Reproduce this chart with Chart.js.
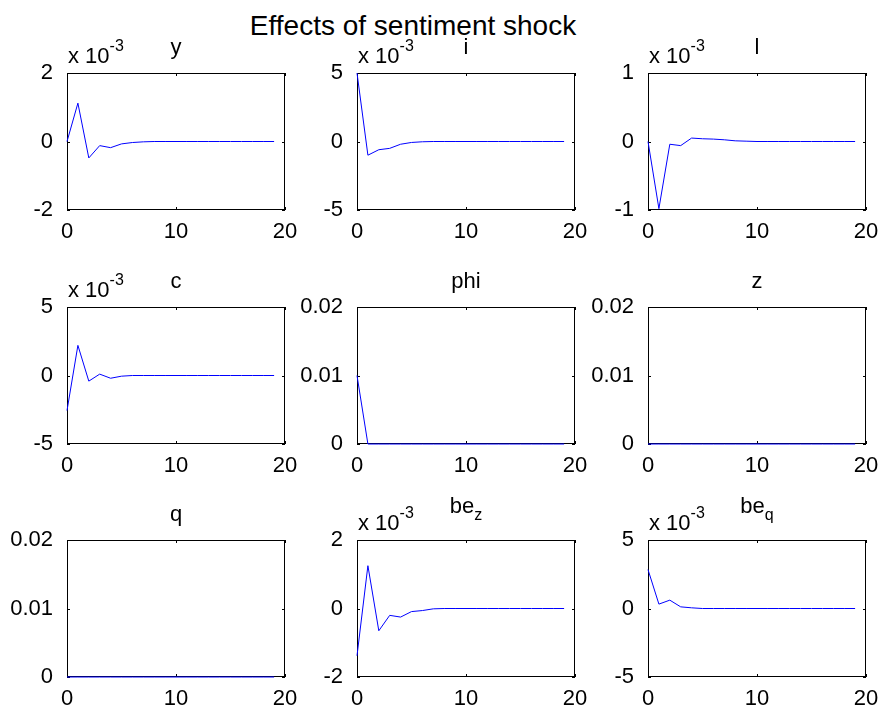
<!DOCTYPE html>
<html>
<head>
<meta charset="utf-8">
<script src="https://cdn.jsdelivr.net/npm/chart.js@4.4.1/dist/chart.umd.min.js"></script>
<style>
  html, body { margin: 0; padding: 0; background: #fff; }
  #wrap { position: relative; width: 884px; height: 712px; overflow: hidden; background: #fff; }
  #wrap canvas { position: absolute; }
  #mainTitle { position: absolute; left: 0; width: 826px; top: 9px; text-align: center;
    font-family: "Liberation Sans", Arial, sans-serif; font-size: 28px; color: #000; line-height: 34px; }
</style>
</head>
<body>
<div id="wrap">
  <div id="mainTitle">Effects of sentiment shock</div>
</div>
<script>
// ---- data ----
const periods = [0, 1, 2, 3, 4, 5, 6, 7, 8, 9, 10, 11, 12, 13, 14, 15, 16, 17, 18, 19];
const panelNames = ["y", "i", "l", "c", "phi", "z", "q", "be_z", "be_q"];
const yValues   = [0, 0.00112, -0.00048, -0.00012, -0.00018, -0.00007, -0.00003, -0.00001, 0, 0, 0, 0, 0, 0, 0, 0, 0, 0, 0, 0];
const iValues   = [0.005, -0.0010, -0.0006, -0.0005, -0.0002, -0.00007, -0.00002, 0, 0, 0, 0, 0, 0, 0, 0, 0, 0, 0, 0, 0];
const lValues   = [0, -0.00098, -0.00004, -0.00006, 0.00005, 0.00004, 0.000035, 0.000025, 0.00001, 0.000005, 0, 0, 0, 0, 0, 0, 0, 0, 0, 0];
const cValues   = [-0.00256, 0.0022, -0.00041, 0.0001, -0.0002, -0.00005, 0, 0, 0, 0, 0, 0, 0, 0, 0, 0, 0, 0, 0, 0];
const phiValues = [0.01, 0, 0, 0, 0, 0, 0, 0, 0, 0, 0, 0, 0, 0, 0, 0, 0, 0, 0, 0];
const zValues   = [0, 0, 0, 0, 0, 0, 0, 0, 0, 0, 0, 0, 0, 0, 0, 0, 0, 0, 0, 0];
const qValues   = [0, 0, 0, 0, 0, 0, 0, 0, 0, 0, 0, 0, 0, 0, 0, 0, 0, 0, 0, 0];
const bezValues = [-0.00138, 0.00125, -0.00065, -0.0002, -0.00025, -0.00009, -0.00006, -0.00001, 0, 0, 0, 0, 0, 0, 0, 0, 0, 0, 0, 0];
const beqValues = [0.00284, 0.00032, 0.00061, 0.00012, 0.00005, 0, 0, 0, 0, 0, 0, 0, 0, 0, 0, 0, 0, 0, 0, 0];
// y-axis tick values per panel
const yTicks = {
  y:   [-0.002, 0, 0.002],
  i:   [-0.005, 0, 0.005],
  l:   [-0.001, 0, 0.001],
  c:   [-0.005, 0, 0.005],
  phi: [0, 0.01, 0.02],
  z:   [0, 0.01, 0.02],
  q:   [0, 0.01, 0.02],
  be_z:[-0.002, 0, 0.002],
  be_q:[-0.005, 0, 0.005]
};
const xTicks = [0, 10, 20];
const seriesByName = { y: yValues, i: iValues, l: lValues, c: cValues, phi: phiValues, z: zValues, q: qValues, be_z: bezValues, be_q: beqValues };
const scaledPanels = ["y", "i", "l", "c", "be_z", "be_q"]; // shown with "x 10^-3"

// ---- layout ----
const FONT = '"Liberation Sans", Arial, sans-serif';
const colLeft = [67, 357, 648];
const rowTop = [73, 307, 540];
const plotW = 218, plotH = 137;
const ML = 66, MT = 50, MR = 22, MB = 36;

const decoPlugin = {
  id: 'deco',
  beforeDatasetsDraw(chart) {
    const { ctx, chartArea: a } = chart;
    ctx.save();
    ctx.strokeStyle = '#000';
    ctx.lineWidth = 1;
    ctx.strokeRect(Math.round(a.left) + 0.5, Math.round(a.top) + 0.5,
                   Math.round(a.right - a.left) - 1, Math.round(a.bottom - a.top) - 1);
    const xs = chart.scales.x, ys = chart.scales.y;
    const tl = 3;
    ctx.beginPath();
    xTicks.forEach(v => {
      const px = Math.round(xs.getPixelForValue(v)) + 0.5;
      ctx.moveTo(px, a.bottom); ctx.lineTo(px, a.bottom - tl);
      ctx.moveTo(px, a.top); ctx.lineTo(px, a.top + tl);
    });
    chart.options.plugins.deco.ticks.forEach(v => {
      const py = Math.round(ys.getPixelForValue(v)) + 0.5;
      ctx.moveTo(a.left, py); ctx.lineTo(a.left + tl, py);
      ctx.moveTo(a.right, py); ctx.lineTo(a.right - tl, py);
    });
    ctx.stroke();
    ctx.restore();
  },
  afterDraw(chart) {
    const { ctx, chartArea: a } = chart;
    const o = chart.options.plugins.deco;
    ctx.save();
    ctx.fillStyle = '#000';
    ctx.textBaseline = 'alphabetic';
    const cx = (a.left + a.right) / 2;
    const parts = o.title.split('_');
    ctx.font = '22px ' + FONT;
    if (parts.length === 2) {
      const w1 = ctx.measureText(parts[0]).width;
      ctx.font = '16px ' + FONT;
      const w2 = ctx.measureText(parts[1]).width;
      const x0 = cx - (w1 + w2) / 2;
      ctx.font = '22px ' + FONT;
      ctx.textAlign = 'left';
      ctx.fillText(parts[0], x0, a.top - 27);
      ctx.font = '16px ' + FONT;
      ctx.fillText(parts[1], x0 + w1, a.top - 20);
    } else {
      ctx.textAlign = 'center';
      ctx.fillText(o.title, cx, a.top - 19);
    }
    if (o.scaled) {
      ctx.textAlign = 'left';
      ctx.font = '22px ' + FONT;
      const base = 'x 10';
      ctx.fillText(base, a.left + 1, a.top - 10);
      const w = ctx.measureText(base).width;
      ctx.font = '16px ' + FONT;
      ctx.fillText('-3', a.left + 1 + w, a.top - 22);
    }
    ctx.restore();
  }
};

const wrap = document.getElementById('wrap');
panelNames.forEach((name, idx) => {
  const r = Math.floor(idx / 3), c = idx % 3;
  const cv = document.createElement('canvas');
  const W = ML + plotW + MR, H = MT + plotH + MB;
  cv.width = W; cv.height = H;
  cv.style.width = W + 'px'; cv.style.height = H + 'px';
  cv.style.left = (colLeft[c] - ML) + 'px';
  cv.style.top = (rowTop[r] - MT) + 'px';
  wrap.appendChild(cv);
  const ticks = yTicks[name];
  const scaled = scaledPanels.includes(name);
  const vals = seriesByName[name];
  new Chart(cv, {
    type: 'line',
    data: {
      datasets: [{
        data: periods.map((p, k) => ({ x: p, y: vals[k] })),
        borderColor: '#0000ff',
        borderWidth: 1,
        pointRadius: 0,
        tension: 0,
        fill: false,
        clip: 4
      }]
    },
    plugins: [decoPlugin],
    options: {
      responsive: false,
      animation: false,
      devicePixelRatio: 1,
      layout: { autoPadding: false, padding: { left: 0, top: MT, right: MR, bottom: 0 } },
      plugins: {
        legend: { display: false },
        tooltip: { enabled: false },
        title: { display: false },
        deco: { title: name, scaled: scaled, ticks: ticks }
      },
      scales: {
        x: {
          type: 'linear', min: 0, max: 20,
          afterFit: s => { s.height = MB; },
          afterBuildTicks: s => { s.ticks = xTicks.map(v => ({ value: v })); },
          grid: { display: false }, border: { display: false },
          ticks: { color: '#000', font: { family: FONT, size: 22 }, padding: 1, maxRotation: 0,
                   callback: v => String(v) }
        },
        y: {
          type: 'linear', min: ticks[0], max: ticks[2],
          afterFit: s => { s.width = ML; },
          afterBuildTicks: s => { s.ticks = ticks.map(v => ({ value: v })); },
          grid: { display: false }, border: { display: false },
          ticks: { color: '#000', font: { family: FONT, size: 22 }, padding: 6,
                   callback: v => {
                     if (Math.abs(v) < 1e-12) return '0';
                     if (scaled) return String(Math.round(v / 0.001));
                     return v.toFixed(2);
                   } }
        }
      }
    }
  });
});
</script>
</body>
</html>
